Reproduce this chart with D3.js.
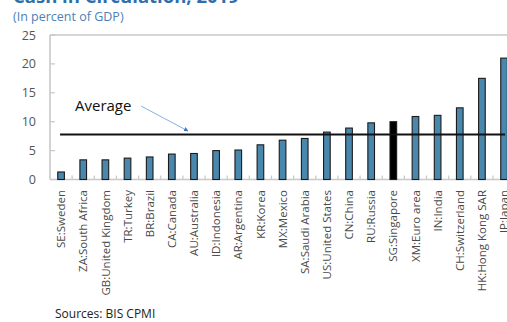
<!DOCTYPE html>
<html>
<head>
<meta charset="utf-8">
<script src="https://cdn.jsdelivr.net/npm/d3@7"></script>
<style>
  html, body { margin: 0; padding: 0; background: #fff; }
  svg { display: block; font-family: "Open Sans", "Noto Sans", sans-serif; }
</style>
</head>
<body>
<svg id="chart" width="507" height="322"></svg>
<script>
// Cash in circulation as a share of GDP, 2019
const categories = [
  "SE:Sweden", "ZA:South Africa", "GB:United Kingdom", "TR:Turkey", "BR:Brazil",
  "CA:Canada", "AU:Australia", "ID:Indonesia", "AR:Argentina", "KR:Korea",
  "MX:Mexico", "SA:Saudi Arabia", "US:United States", "CN:China", "RU:Russia",
  "SG:Singapore", "XM:Euro area", "IN:India", "CH:Switzerland", "HK:Hong Kong SAR",
  "JP:Japan"
];
const values = [
  1.3, 3.4, 3.4, 3.7, 3.9,
  4.4, 4.5, 5.0, 5.1, 6.0,
  6.8, 7.1, 8.2, 8.9, 9.8,
  10.0, 10.9, 11.1, 12.4, 17.5,
  21.0
];
const highlighted = ["SG:Singapore"];
const averageValue = 7.8;
const yTicks = [0, 5, 10, 15, 20, 25];

const svg = d3.select("#chart");

const plotLeft = 50, plotTop = 35, plotBottom = 179.5;
const step = 22.15;
const x = d3.scaleBand()
  .domain(categories)
  .range([plotLeft, plotLeft + step * categories.length])
  .padding(0);
const y = d3.scaleLinear().domain([0, 25]).range([plotBottom, plotTop]);

const barW = x.bandwidth() * 0.3;
const cx = d => x(d) + x.bandwidth() / 2;

// Title and subtitle
svg.append("text")
  .attr("x", 13).attr("y", 3)
  .attr("font-size", 18.5).attr("font-weight", 700)
  .attr("fill", "#2f6eab")
  .text("Cash in Circulation, 2019");
svg.append("text")
  .attr("x", 13).attr("y", 21)
  .attr("font-size", 12.5)
  .attr("fill", "#4f80b3")
  .text("(In percent of GDP)");

// Frame: left axis, top border, baseline
const frame = svg.append("g").attr("stroke", "#c8c8c8").attr("stroke-width", 1.6).attr("fill", "none");
frame.append("line").attr("x1", plotLeft).attr("x2", plotLeft).attr("y1", plotTop).attr("y2", plotBottom);
frame.append("line").attr("x1", plotLeft).attr("x2", 507).attr("y1", plotTop).attr("y2", plotTop);
frame.append("line").attr("x1", plotLeft).attr("x2", 507).attr("y1", plotBottom).attr("y2", plotBottom);

// Y axis labels
const yAxis = d3.axisLeft(y).tickValues(yTicks).tickSize(0).tickPadding(14);
const gy = svg.append("g").attr("transform", `translate(${plotLeft},0)`).call(yAxis);
gy.select(".domain").remove();
gy.selectAll("text").attr("font-size", 12.5).attr("fill", "#555").attr("font-family", "'Open Sans', sans-serif");
// Inward y ticks
svg.append("g").selectAll("line").data(yTicks).join("line")
  .attr("x1", plotLeft).attr("x2", plotLeft + 5)
  .attr("y1", d => y(d)).attr("y2", d => y(d))
  .attr("stroke", "#c8c8c8").attr("stroke-width", 1.2);

// X tick marks at category boundaries
svg.append("g").selectAll("line").data(categories.slice(1)).join("line")
  .attr("x1", d => x(d)).attr("x2", d => x(d))
  .attr("y1", plotBottom).attr("y2", plotBottom - 4)
  .attr("stroke", "#c8c8c8").attr("stroke-width", 1.2);

// Bars
svg.append("g").selectAll("rect").data(categories).join("rect")
  .attr("x", d => cx(d) - barW / 2)
  .attr("width", barW)
  .attr("y", (d, i) => y(values[i]))
  .attr("height", (d, i) => y(0) - y(values[i]))
  .attr("fill", d => highlighted.includes(d) ? "#000" : "#4a87ad")
  .attr("stroke", "#1b1b1b")
  .attr("stroke-width", 1.1);

// Category labels, rotated
svg.append("g").selectAll("text").data(categories).join("text")
  .attr("transform", d => `translate(${cx(d)},190) rotate(-90)`)
  .attr("text-anchor", "end")
  .attr("dy", "0.36em")
  .attr("font-size", 11.5)
  .attr("fill", "#4a4a4a")
  .text(d => d);

// Average line
svg.append("line")
  .attr("x1", cx(categories[0]) - 1)
  .attr("x2", cx(categories[categories.length - 1]) + 1)
  .attr("y1", y(averageValue)).attr("y2", y(averageValue))
  .attr("stroke", "#111").attr("stroke-width", 2);

// Average annotation with arrow
svg.append("defs").append("marker")
  .attr("id", "arrow").attr("viewBox", "0 0 10 10")
  .attr("refX", 9).attr("refY", 5)
  .attr("markerWidth", 5).attr("markerHeight", 5)
  .attr("orient", "auto")
  .append("path").attr("d", "M0,0L10,5L0,10Z").attr("fill", "#3f74c8");
svg.append("text")
  .attr("x", 75).attr("y", 111)
  .attr("font-size", 15)
  .attr("fill", "#111")
  .text("Average");
svg.append("line")
  .attr("x1", 141).attr("y1", 106)
  .attr("x2", 188).attr("y2", 131)
  .attr("stroke", "#7aa6e0").attr("stroke-width", 0.9)
  .attr("marker-end", "url(#arrow)");

// Source note
svg.append("text")
  .attr("x", 55).attr("y", 318)
  .attr("font-size", 12)
  .attr("fill", "#222")
  .text("Sources: BIS CPMI");
</script>
</body>
</html>
